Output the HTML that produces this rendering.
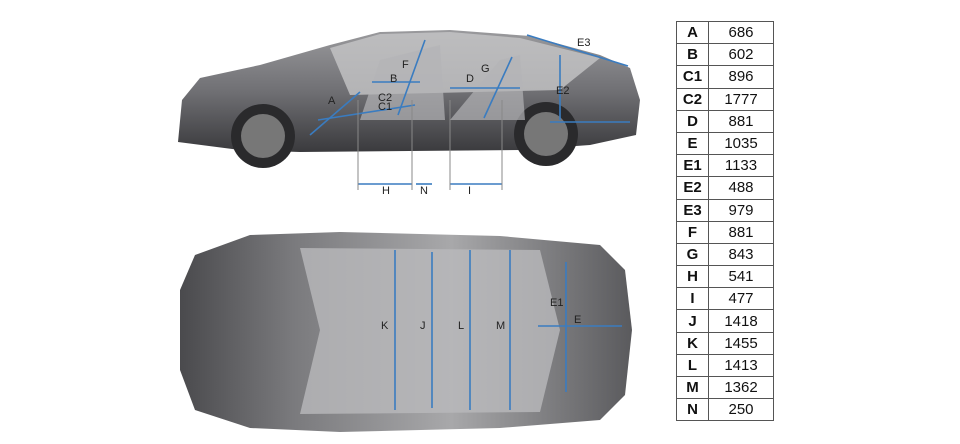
<!DOCTYPE html>
<html><head><meta charset="utf-8"><style>
body{margin:0;width:960px;height:444px;background:#fff;overflow:hidden;font-family:"Liberation Sans",sans-serif}
table{position:absolute;left:676px;top:21px;border-collapse:collapse}
td{border:1px solid #555;height:21.2px;padding:0;font-size:15px;color:#111;text-align:center;line-height:21px}
td.k{width:31px;font-weight:bold}
td.v{width:64px}
</style></head><body>
<svg width="960" height="444" style="position:absolute;left:0;top:0">
<defs>
<linearGradient id="g1" x1="0" y1="0" x2="0" y2="1"><stop offset="0" stop-color="#9a9a9d"/><stop offset=".5" stop-color="#707074"/><stop offset="1" stop-color="#3a3a3d"/></linearGradient>
<linearGradient id="g2" x1="0" y1="0" x2="1" y2="0"><stop offset="0" stop-color="#4a4a4d"/><stop offset=".25" stop-color="#7a7a7d"/><stop offset=".6" stop-color="#a8a8aa"/><stop offset="1" stop-color="#5a5a5d"/></linearGradient>
</defs>
<path d="M178 142 L182 100 L200 78 L260 65 L330 45 L380 32 L450 30 L530 36 L600 55 L630 68 L640 100 L636 135 L590 145 L520 150 L300 152 L240 150 Z" fill="url(#g1)"/>
<path d="M330 48 L380 34 L450 32 L520 38 L600 58 L560 90 L350 95 Z" fill="#c5c5c7" opacity=".8"/>
<circle cx="263" cy="136" r="32" fill="#2a2a2c"/><circle cx="263" cy="136" r="22" fill="#777"/>
<circle cx="546" cy="134" r="32" fill="#2a2a2c"/><circle cx="546" cy="134" r="22" fill="#777"/>
<path d="M360 120 L380 60 L440 45 L445 120 Z M450 120 L500 60 L520 55 L525 120 Z" fill="#b4b4b6" opacity=".7"/>
<path d="M180 290 L195 255 L250 235 L340 232 L500 236 L600 245 L625 270 L632 330 L625 395 L600 420 L500 428 L340 432 L250 428 L195 410 L180 370 Z" fill="url(#g2)"/>
<path d="M300 248 L540 250 L560 330 L540 412 L300 414 L320 330 Z" fill="#b9b9bb" opacity=".8"/>
<g stroke="#3a7cc0" stroke-width="1.6" fill="none">
<line x1="395" y1="250" x2="395" y2="410"/><line x1="432" y1="252" x2="432" y2="408"/>
<line x1="470" y1="250" x2="470" y2="410"/><line x1="510" y1="250" x2="510" y2="410"/>
<line x1="566" y1="262" x2="566" y2="392"/><line x1="538" y1="326" x2="622" y2="326"/>
<line x1="310" y1="135" x2="360" y2="92"/><line x1="318" y1="120" x2="415" y2="105"/>
<line x1="372" y1="82" x2="420" y2="82"/><line x1="450" y1="88" x2="520" y2="88"/>
<line x1="398" y1="115" x2="425" y2="40"/><line x1="484" y1="118" x2="512" y2="57"/>
<line x1="527" y1="35" x2="628" y2="66"/><line x1="560" y1="55" x2="560" y2="120"/>
<line x1="550" y1="122" x2="630" y2="122"/>
<line x1="358" y1="184" x2="412" y2="184"/><line x1="450" y1="184" x2="502" y2="184"/><line x1="416" y1="184" x2="432" y2="184"/>
</g>
<g stroke="#888" stroke-width="1"><line x1="358" y1="100" x2="358" y2="190"/><line x1="412" y1="100" x2="412" y2="190"/><line x1="450" y1="100" x2="450" y2="190"/><line x1="502" y1="100" x2="502" y2="190"/></g>
<g font-size="11" fill="#222">
<text x="328" y="104">A</text><text x="390" y="82">B</text><text x="378" y="101">C2</text><text x="378" y="110">C1</text>
<text x="402" y="68">F</text><text x="466" y="82">D</text><text x="481" y="72">G</text><text x="577" y="46">E3</text><text x="556" y="94">E2</text>
<text x="382" y="194">H</text><text x="420" y="194">N</text><text x="468" y="194">I</text>
<text x="381" y="329">K</text><text x="420" y="329">J</text><text x="458" y="329">L</text><text x="496" y="329">M</text>
<text x="550" y="306">E1</text><text x="574" y="323">E</text>
</g>
</svg>
<table>
<tr><td class="k">A</td><td class="v">686</td></tr>
<tr><td class="k">B</td><td class="v">602</td></tr>
<tr><td class="k">C1</td><td class="v">896</td></tr>
<tr><td class="k">C2</td><td class="v">1777</td></tr>
<tr><td class="k">D</td><td class="v">881</td></tr>
<tr><td class="k">E</td><td class="v">1035</td></tr>
<tr><td class="k">E1</td><td class="v">1133</td></tr>
<tr><td class="k">E2</td><td class="v">488</td></tr>
<tr><td class="k">E3</td><td class="v">979</td></tr>
<tr><td class="k">F</td><td class="v">881</td></tr>
<tr><td class="k">G</td><td class="v">843</td></tr>
<tr><td class="k">H</td><td class="v">541</td></tr>
<tr><td class="k">I</td><td class="v">477</td></tr>
<tr><td class="k">J</td><td class="v">1418</td></tr>
<tr><td class="k">K</td><td class="v">1455</td></tr>
<tr><td class="k">L</td><td class="v">1413</td></tr>
<tr><td class="k">M</td><td class="v">1362</td></tr>
<tr><td class="k">N</td><td class="v">250</td></tr>
</table>
</body></html>
